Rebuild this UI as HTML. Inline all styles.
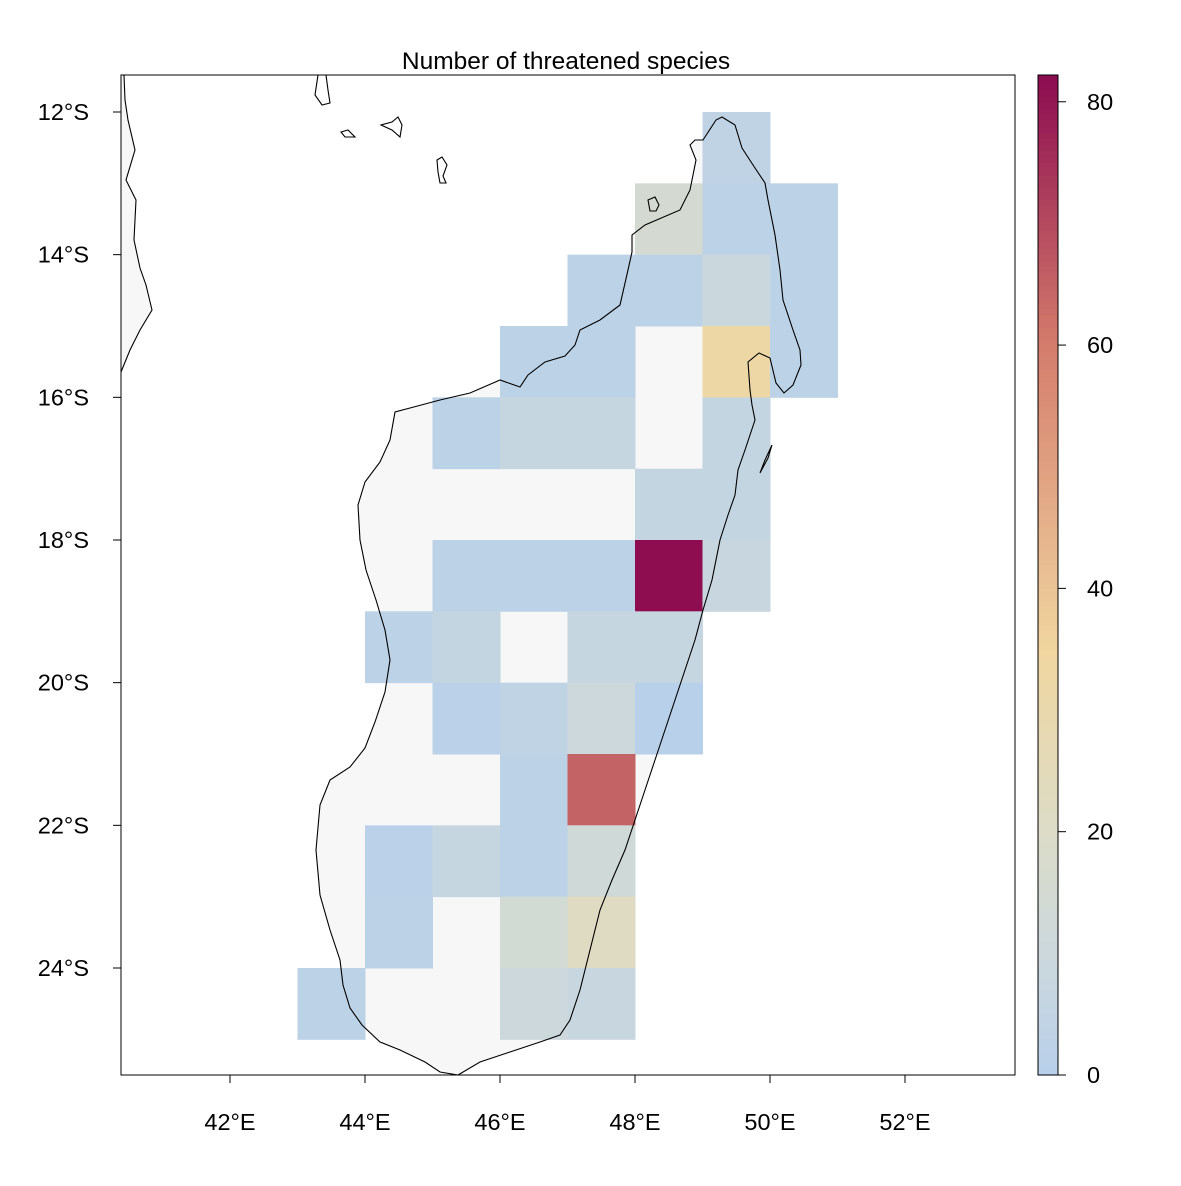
<!DOCTYPE html>
<html><head><meta charset="utf-8"><style>
body{margin:0;background:#fff}
svg text{font-family:"Liberation Sans",Arial,sans-serif;fill:#000}
</style></head><body>
<svg id="c" width="1181" height="1181" xmlns="http://www.w3.org/2000/svg">
<rect width="1181" height="1181" fill="#fff"/>
<g id="land"></g>
<g id="cells"></g>
<g id="coast"></g>
<rect x="121" y="75" width="894" height="1000" fill="none" stroke="#000" stroke-width="1"/>
<text x="566" y="69" font-size="24.5" text-anchor="middle">Number of threatened species</text>
<g id="axes"></g>
<g id="legend"></g>
</svg>
<script>
const cellLon=[49,48,49,50,47,48,49,50,46,47,49,50,45,46,47,49,48,49,45,46,47,48,49,44,45,47,48,45,46,47,48,46,47,44,45,46,47,44,46,47,43,46,47];
const cellLat=[12,13,13,13,14,14,14,14,15,15,15,15,16,16,16,16,17,17,18,18,18,18,18,19,19,19,19,20,20,20,20,21,21,22,22,22,22,23,23,23,24,24,24];
const cellValues=[4,15,2,2,2,2,9,2,2,2,33,2,2,7,7,6,6,6,2,2,2,82,8,2,6,7,7,1,4,10,0,2,65,1,7,2,12,2,14,22,2,10,8];
const xTicks=[42,44,46,48,50,52];
const yTicks=[12,14,16,18,20,22,24];
const legendTicks=[0,20,40,60,80];
const NS='http://www.w3.org/2000/svg';
const xs=lon=>230+(lon-42)*67.5;
const ys=lat=>112+(lat-12)*71.333;
const zMax=82.2;
const ly=v=>1075-v*(1000/zMax);
const stops=[[0,[184,208,234]],[10,[204,216,220]],[20,[220,220,200]],[35,[240,214,160]],[60,[212,124,108]],[82.2,[140,12,80]]];
function col(v){for(let i=1;i<stops.length;i++){if(v<=stops[i][0]){const a=stops[i-1],b=stops[i],t=(v-a[0])/(b[0]-a[0]);return 'rgb('+a[1].map((c,k)=>Math.round(c+(b[1][k]-c)*t)).join(',')+')';}}return 'rgb(140,12,80)';}
function mk(tag,attrs,parent){const e=document.createElementNS(NS,tag);for(const k in attrs)e.setAttribute(k,attrs[k]);parent.appendChild(e);return e;}
const mada="M722,117 L735,125 L742,148 L755,168 L765,183 L768,200 L775,235 L780,270 L783,300 L793,330 L800,350 L801,365 L793,385 L784,393 L776,383 L770,358 L759,353 L748,362 L750,390 L752,405 L755,420 L745,450 L738,470 L735,495 L728,515 L720,540 L712,580 L703,610 L695,640 L685,670 L675,700 L665,730 L655,760 L645,790 L635,820 L625,850 L612,880 L600,910 L590,950 L580,990 L570,1020 L560,1035 L540,1042 L510,1052 L480,1062 L458,1075 L440,1072 L425,1062 L400,1050 L380,1042 L362,1025 L350,1008 L343,985 L340,960 L330,930 L320,895 L316,850 L320,805 L330,780 L350,767 L365,748 L375,722 L385,692 L390,660 L385,630 L376,600 L366,570 L360,540 L358,505 L365,482 L380,462 L390,440 L395,412 L410,408 L440,400 L470,393 L500,380 L520,387 L528,375 L545,362 L565,356 L575,345 L580,330 L600,320 L620,305 L628,270 L632,252 L632,235 L645,225 L680,210 L690,190 L696,160 L690,145 L695,140 L703,140 L716,120 Z";
const mozLine="M124,75 L125,100 L128,120 L135,150 L126,180 L136,200 L134,240 L140,268 L146,285 L152,310 L140,330 L130,350 L121,372";
const moz=mozLine.replace('M124,75','M121,75 L124,75')+" Z";
const land=document.getElementById('land');
let p=mk('path',{d:mada,fill:'#f7f7f7'},land);


p=mk('path',{d:moz,fill:'#f7f7f7'},land);


const cells=document.getElementById('cells');
for(let i=0;i<cellValues.length;i++){
 const x0=xs(cellLon[i]),x1=xs(cellLon[i]+1),y0=ys(cellLat[i]),y1=ys(cellLat[i]+1);
 const r=mk('rect',{x:x0,y:y0,width:x1-x0+0.5,height:y1-y0+0.5,fill:col(cellValues[i])},cells);
 
 
}
const coast=document.getElementById('coast');
const lines=[mada,mozLine,
"M318,75 L315,95 L322,105 L330,103 L328,90 L326,75","M341,132 L348,130 L355,137 L345,137 Z","M381,125 L392,122 L398,117 L402,125 L400,137 L392,130 Z",
"M437,160 L442,157 L447,165 L443,176 L446,183 L440,183 L438,172 Z","M648,200 L655,197 L659,205 L656,211 L650,211 Z","M772,445 L765,460 L760,473 L768,458 Z"];
lines.forEach((d,i)=>{const l=mk('path',{d:d,fill:'none',stroke:'#000','stroke-width':1.1},coast);

});
const axes=document.getElementById('axes');
xTicks.forEach(t=>{const x=xs(t);
 const l=mk('line',{x1:x,x2:x,y1:1075,y2:1083,stroke:'#000'},axes);
 
 
 const tx=mk('text',{x:x,y:1130,'font-size':23.5,'text-anchor':'middle'},axes);tx.textContent=t+'°E';
 
 });
yTicks.forEach(t=>{const y=ys(t);
 const l=mk('line',{x1:113,x2:121,y1:y,y2:y,stroke:'#000'},axes);
 
 
 const tx=mk('text',{x:89,y:y+8,'font-size':23.5,'text-anchor':'end'},axes);tx.textContent=t+'°S';
 
 });
const lg=document.getElementById('legend');
for(let v=0;v<zMax;v+=0.5){const top=Math.max(75,ly(Math.min(zMax,v+0.5)));const r=mk('rect',{x:1038,y:top,width:20,height:ly(v)-top+0.6,fill:col(v+0.25)},lg);
 
 }
const fr=mk('rect',{x:1038,y:75,width:20,height:1000,fill:'none',stroke:'#000'},lg);


legendTicks.forEach(t=>{const y=ly(t);
 const l=mk('line',{x1:1058,x2:1066,y1:y,y2:y,stroke:'#000'},lg);
 
 
 const tx=mk('text',{x:1087,y:y+8,'font-size':23.5},lg);tx.textContent=t;
 
 });
</script>
</body></html>
